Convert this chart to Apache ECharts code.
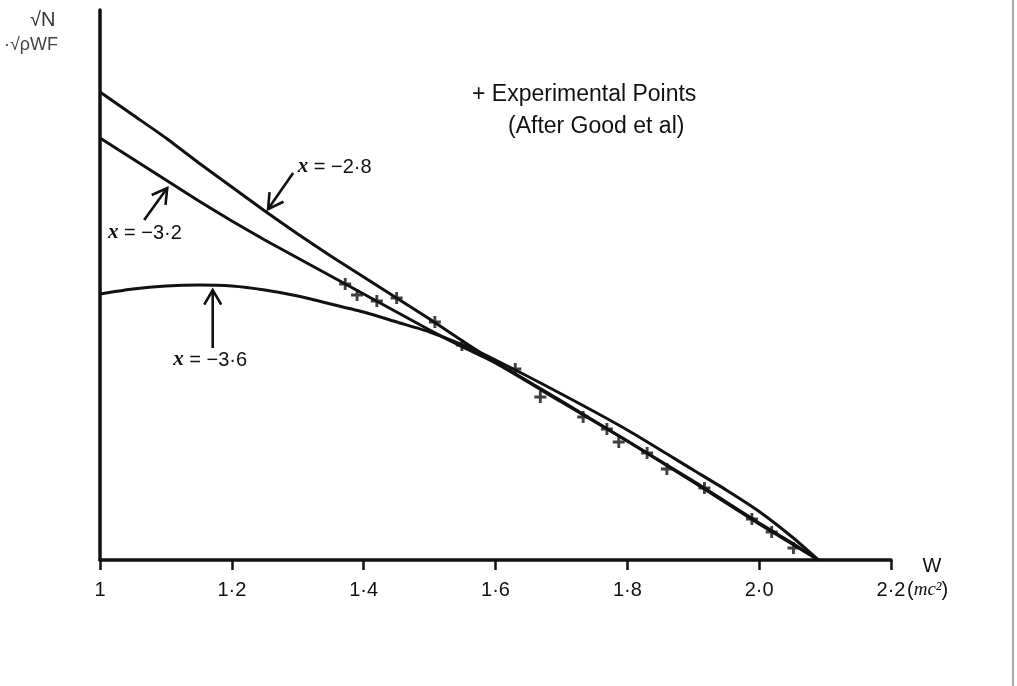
<!DOCTYPE html>
<html><head><meta charset="utf-8">
<script src="https://cdn.jsdelivr.net/npm/echarts@6/dist/echarts.min.js"></script>
<style>html,body{margin:0;padding:0;background:#fff}#c{width:1017px;height:686px}</style>
</head><body><div id="c"></div>
<script>
// ---- data ----
const curveW = [1.0,1.05,1.1,1.15,1.2,1.25,1.3,1.35,1.4,1.45,1.5,1.55,1.6,1.7,1.8,1.9,1.95,2.0,2.05,2.09];
const curve28 = [4.68,4.45,4.22,3.97,3.73,3.49,3.26,3.04,2.83,2.62,2.41,2.19,1.98,1.59,1.19,0.78,0.57,0.36,0.16,0];
const curve32 = [4.22,4.01,3.80,3.59,3.39,3.20,3.02,2.84,2.66,2.48,2.30,2.13,1.97,1.58,1.19,0.79,0.58,0.37,0.17,0];
const curve36 = [2.66,2.71,2.74,2.75,2.74,2.70,2.64,2.56,2.48,2.38,2.28,2.15,2.00,1.66,1.30,0.90,0.70,0.485,0.23,0];
const expW = [1.372,1.390,1.420,1.450,1.508,1.549,1.630,1.668,1.733,1.769,1.787,1.830,1.860,1.917,1.989,2.019,2.052];
const expY = [2.76,2.65,2.59,2.62,2.38,2.15,1.91,1.63,1.43,1.31,1.18,1.07,0.91,0.72,0.41,0.28,0.12];
const xTicks = [1.0,1.2,1.4,1.6,1.8,2.0,2.2];
const curveLabels = ['−2·8','−3·2','−3·6'];

// ---- annotation layout (data coordinates) ----
const annot = [
  {text:[1.300,3.93], tail:[1.293,3.87], tip:[1.255,3.51]},
  {text:[1.012,3.27], tail:[1.067,3.40], tip:[1.102,3.72]},
  {text:[1.111,2.00], tail:[1.171,2.12], tip:[1.171,2.70]}
];

const chart = echarts.init(document.getElementById('c'), null, {renderer:'canvas'});
const ink = '#111';
const pair = (xs, ys) => xs.map((x,i)=>[x, ys[i]]);
const lineSeries = (ys) => ({
  type:'line', data: pair(curveW, ys), smooth:0.2, showSymbol:false,
  lineStyle:{color:ink, width:3}, z:2, silent:true
});
const option = {
  animation:false,
  backgroundColor:'#fff',
  grid:{left:100, right:126, top:10, bottom:126},
  xAxis:{
    type:'value', min:1, max:2.2, interval:0.2,
    axisLine:{show:true, onZero:false, lineStyle:{color:ink, width:3.5}},
    axisTick:{show:true, length:10, lineStyle:{color:ink, width:2.5}},
    axisLabel:{
      color:ink, fontSize:20, fontFamily:'Liberation Sans', margin:20,
      formatter:(v)=>{ const r=Math.round(v*10)/10; return r===1?'1':r.toFixed(1).replace('.', '·'); }
    },
    splitLine:{show:false}
  },
  yAxis:{
    type:'value', min:0, max:5.5,
    axisLine:{show:true, onZero:false, lineStyle:{color:ink, width:3.5}},
    axisTick:{show:false}, axisLabel:{show:false}, splitLine:{show:false}
  },
  series:[
    lineSeries(curve28), lineSeries(curve32), lineSeries(curve36),
    {type:'scatter', data:pair(expW, expY), symbol:'path://M3.8,0H6.2V3.8H10V6.2H6.2V10H3.8V6.2H0V3.8H3.8Z',
     symbolSize:12, itemStyle:{color:ink}, z:3, silent:true}
  ]
};
chart.setOption(option);

function arrow(tail, tip){
  const a = chart.convertToPixel({gridIndex:0}, tail);
  const b = chart.convertToPixel({gridIndex:0}, tip);
  const dx=b[0]-a[0], dy=b[1]-a[1], len=Math.hypot(dx,dy), ux=dx/len, uy=dy/len;
  const L=17, ang=Math.PI/6;
  const h = (s)=>{ const c=Math.cos(s*ang), si=Math.sin(s*ang);
    const rx=ux*c-uy*si, ry=ux*si+uy*c; return [b[0]-L*rx, b[1]-L*ry]; };
  return [
    {type:'line', shape:{x1:a[0],y1:a[1],x2:b[0],y2:b[1]}, style:{stroke:ink, lineWidth:2.6}},
    {type:'polyline', shape:{points:[h(1), b, h(-1)]}, style:{stroke:ink, lineWidth:2.6, fill:null}}
  ];
}
const g = [];
annot.forEach((an,i)=>{
  arrow(an.tail, an.tip).forEach(e=>g.push(e));
  const p = chart.convertToPixel({gridIndex:0}, an.text);
  g.push({type:'text', x:p[0], y:p[1], style:{
    text:'{i|x} = ' + curveLabels[i], fill:ink, font:'20px "Liberation Sans"', verticalAlign:'middle',
    rich:{i:{font:'italic bold 21px "Liberation Serif"', fill:ink}}
  }});
});
// legend note
g.push({type:'text', x:472, y:95, style:{text:'+ Experimental Points', fill:ink, font:'23px "Liberation Sans"', verticalAlign:'middle'}});
g.push({type:'text', x:508, y:127, style:{text:'(After Good et al)', fill:ink, font:'23px "Liberation Sans"', verticalAlign:'middle'}});
// axis names
g.push({type:'text', x:932, y:566, style:{text:'W', fill:ink, font:'20px "Liberation Sans"', align:'center', verticalAlign:'middle'}});
g.push({type:'text', x:907, y:590, style:{text:'({i|mc²})', fill:ink, font:'20px "Liberation Sans"', verticalAlign:'middle',
  rich:{i:{font:'italic 19px "Liberation Serif"', fill:ink}}}});
g.push({type:'text', x:30, y:20, style:{text:'√N', fill:'#333', font:'20px "Liberation Sans"', verticalAlign:'middle'}});
g.push({type:'text', x:4, y:45, style:{text:'·√ρWF', fill:'#444', font:'18px "Liberation Sans"', verticalAlign:'middle'}});
// scan edge line
g.push({type:'line', shape:{x1:1013,y1:0,x2:1013,y2:686}, style:{stroke:'#555', lineWidth:1}});
chart.setOption({graphic:g});
</script></body></html>
